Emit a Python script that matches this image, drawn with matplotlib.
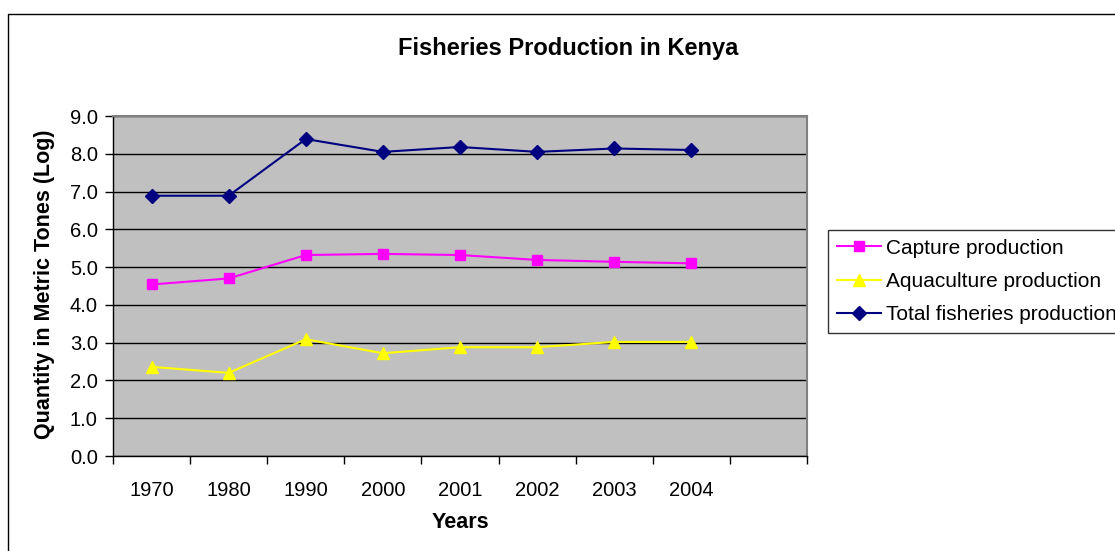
import matplotlib
matplotlib.use("Agg")
import matplotlib.pyplot as plt
from matplotlib.patches import Rectangle
import numpy as np

plt.rcParams['font.family'] = ['Liberation Sans', 'DejaVu Sans']

years = ["1970", "1980", "1990", "2000", "2001", "2002", "2003", "2004"]
capture = [4.54, 4.70, 5.32, 5.35, 5.32, 5.19, 5.14, 5.10]
aquaculture = [2.36, 2.20, 3.09, 2.72, 2.88, 2.88, 3.02, 3.02]
total = [6.89, 6.89, 8.39, 8.05, 8.18, 8.05, 8.14, 8.10]
n_slots = 9  # category axis reserves one empty slot at the end

fig = plt.figure(figsize=(11.15, 5.51), dpi=100)
ax = fig.add_axes([113 / 1115, 1 - 456 / 551, (807 - 113) / 1115, (456 - 116) / 551])

ax.set_facecolor("#C0C0C0")
x = np.arange(len(years)) + 0.5

ax.plot(x, capture, color="#FF00FF", lw=1.5, marker="s", ms=7,
        mec="#FF00FF", label="Capture production", zorder=3)
ax.plot(x, aquaculture, color="#FFFF00", lw=1.5, marker="^", ms=9,
        mec="#FFFF00", label="Aquaculture production", zorder=3)
ax.plot(x, total, color="#000080", lw=1.5, marker="D", ms=7,
        mec="#000080", label="Total fisheries production", zorder=3)

ax.set_xlim(0, n_slots)
ax.set_ylim(0, 9)
ax.set_yticks(np.arange(0, 9.1, 1.0))
ax.set_yticklabels([f"{v:.1f}" for v in np.arange(0, 9.1, 1.0)], fontsize=14.5)
ax.yaxis.grid(True, color="black", lw=1.0)
ax.set_axisbelow(True)

ax.set_xticks(np.arange(0, n_slots + 1), minor=False)
ax.set_xticklabels([])
ax.set_xticks(x, minor=True)
ax.set_xticklabels(years, minor=True, fontsize=14.5)
ax.tick_params(axis="x", which="major", length=6, width=1, direction="out")
ax.tick_params(axis="x", which="minor", length=0, pad=18)
ax.tick_params(axis="y", length=6, width=1, direction="out", pad=5)

for s in ["left", "bottom"]:
    ax.spines[s].set_color("black")
    ax.spines[s].set_linewidth(1.0)
for s in ["top", "right"]:
    ax.spines[s].set_color("#808080")
    ax.spines[s].set_linewidth(1.5)

fig.text(568 / 1115, 1 - 48 / 551, "Fisheries Production in Kenya",
         ha="center", va="center", fontsize=17, fontweight="bold")
fig.text(460 / 1115, 1 - 523 / 551, "Years",
         ha="center", va="center", fontsize=15.5, fontweight="bold")
fig.text(45 / 1115, 1 - 284 / 551, "Quantity in Metric Tones (Log)",
         ha="center", va="center", rotation=90, fontsize=15.5, fontweight="bold")

leg = fig.legend(loc="upper left", bbox_to_anchor=(828 / 1115, 1 - 230 / 551),
                 fontsize=15, frameon=True, fancybox=False, edgecolor="black",
                 handlelength=2.1, handletextpad=0.25, labelspacing=0.69,
                 borderpad=0.42, borderaxespad=0)
leg.get_frame().set_linewidth(1.0)

# chart frame, running off the right and bottom edges
fig.patches.append(Rectangle((8 / 1115, -0.2), 1.3, 1 - 14 / 551 + 0.2,
                             transform=fig.transFigure, fill=False,
                             edgecolor="black", lw=1.0, clip_on=False))

fig.savefig("out.png", dpi=100)
